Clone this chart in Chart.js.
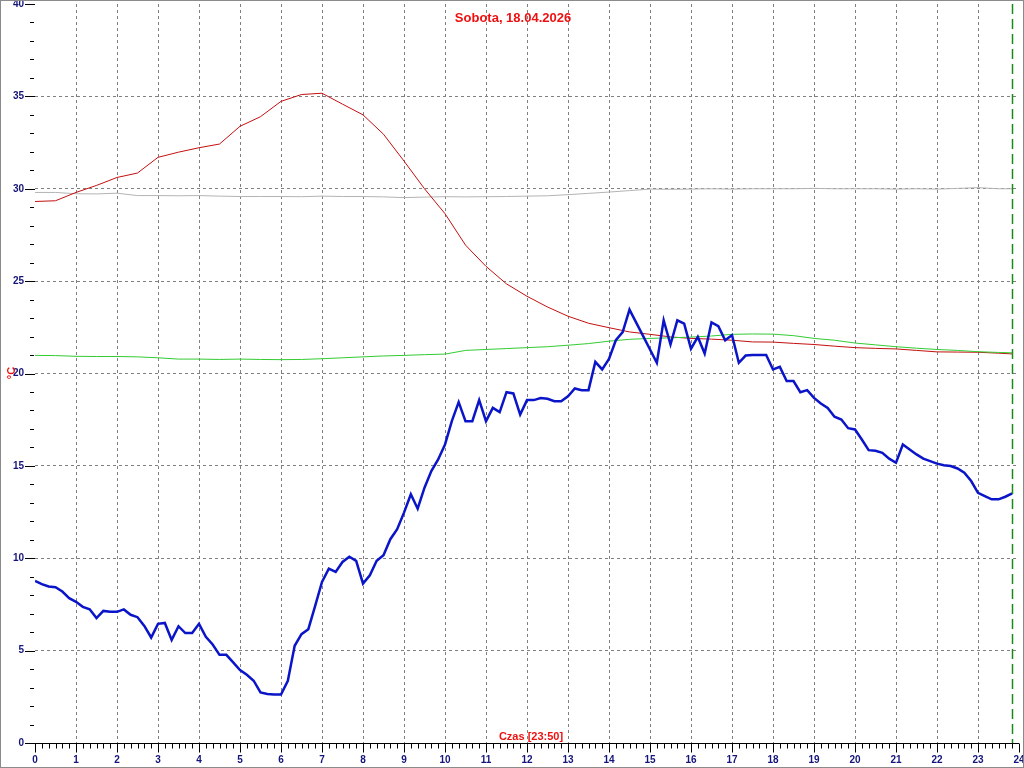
<!DOCTYPE html>
<html>
<head>
<meta charset="utf-8">
<script src="https://cdn.jsdelivr.net/npm/chart.js@4.4.1/dist/chart.umd.min.js"></script>
<style>
  html, body { margin: 0; padding: 0; background: #fff; }
  #wrap { width: 1024px; height: 768px; }
</style>
</head>
<body>
<div id="wrap"><canvas id="tempChart" width="1024" height="768"></canvas></div>
<script>
const dayTitle = 'Sobota, 18.04.2026';
const nowLabel = '23:50';
const axisTitleX = 'Czas';
const axisTitleY = '°C';

// blue: readings every 10 minutes, 00:00 .. 23:50
const blueMinutes = Array.from({ length: 144 }, (_, i) => i * 10);
const blueTemp = [8.77,8.6,8.47,8.43,8.2,7.84,7.64,7.37,7.24,6.76,
  7.15,7.1,7.1,7.23,6.94,6.81,6.34,5.71,6.45,6.5,
  5.58,6.32,5.95,5.95,6.45,5.75,5.33,4.77,4.77,4.36,
  3.95,3.69,3.37,2.74,2.65,2.62,2.62,3.37,5.26,5.89,
  6.16,7.42,8.72,9.44,9.26,9.8,10.08,9.86,8.63,9.08,
  9.86,10.16,11.03,11.57,12.47,13.46,12.68,13.82,14.72,15.35,
  16.16,17.42,18.45,17.42,17.42,18.56,17.42,18.14,17.91,18.99,
  18.92,17.78,18.56,18.56,18.67,18.63,18.5,18.5,18.77,19.19,
  19.1,19.1,20.63,20.22,20.79,21.8,22.24,23.46,22.74,22.02,
  21.3,20.58,22.88,21.57,22.88,22.7,21.34,21.98,21.08,22.77,
  22.56,21.8,22.08,20.58,20.97,21.0,21.0,21.0,20.22,20.36,
  19.59,19.59,18.99,19.1,18.68,18.38,18.13,17.66,17.51,17.04,
  16.97,16.43,15.85,15.82,15.71,15.39,15.17,16.16,15.89,15.62,
  15.39,15.26,15.12,15.03,14.99,14.86,14.63,14.18,13.54,13.36,
  13.19,13.19,13.33,13.51];

// slow series: every 30 minutes plus the last reading at 23:50
const slowMinutes = Array.from({ length: 48 }, (_, i) => i * 30).concat([1430]);
const redTemp = [29.31,29.35,29.8,30.18,30.61,30.85,31.7,31.98,32.22,32.42,
  33.38,33.9,34.73,35.1,35.17,34.58,34.0,32.95,31.5,30.0,
  28.65,26.95,25.8,24.85,24.18,23.6,23.1,22.72,22.48,22.25,
  22.12,21.98,21.9,21.86,21.8,21.71,21.7,21.63,21.57,21.48,
  21.4,21.36,21.33,21.25,21.17,21.16,21.15,21.1,21.06];
const greenTemp = [20.98,20.97,20.93,20.92,20.92,20.9,20.85,20.78,20.78,20.76,
  20.78,20.76,20.75,20.76,20.8,20.85,20.9,20.95,20.98,21.02,
  21.05,21.25,21.3,21.35,21.4,21.45,21.53,21.62,21.75,21.85,
  21.9,21.93,21.97,22.03,22.12,22.14,22.13,22.05,21.9,21.8,
  21.65,21.55,21.45,21.37,21.3,21.25,21.18,21.14,21.12];
const grayTemp = [29.8,29.8,29.73,29.72,29.76,29.63,29.63,29.62,29.63,29.6,
  29.58,29.58,29.58,29.57,29.6,29.58,29.58,29.56,29.52,29.55,
  29.57,29.56,29.57,29.58,29.6,29.62,29.68,29.75,29.82,29.9,
  29.98,29.97,29.98,30.0,29.98,30.0,30.0,30.0,30.02,30.0,
  30.0,30.0,29.98,30.0,29.98,30.02,30.06,30.0,30.0];

const pts = (mins, vals) => mins.map((m, i) => ({ x: m / 60, y: vals[i] }));
const nowHours = (() => { const [h, m] = nowLabel.split(':').map(Number); return h + m / 60; })();

const tickFont = { family: 'Liberation Sans, Arial, sans-serif', size: 10, weight: 'bold' };
const navy = '#14147a';
const red = '#ee1111';

// extra drawing: axis line, minor ticks, "now" marker, labels, frame
const decor = {
  id: 'decor',
  beforeDraw(chart) {
    const ctx = chart.ctx;
    ctx.save();
    ctx.fillStyle = '#fff';
    ctx.fillRect(0, 0, chart.width, chart.height);
    ctx.restore();
  },
  afterDraw(chart) {
    const { ctx, chartArea: a, scales: { x, y } } = chart;
    ctx.save();
    ctx.strokeStyle = '#000';
    ctx.lineWidth = 1;
    ctx.beginPath();
    const by = Math.round(a.bottom) + 0.5;
    ctx.moveTo(a.left - 2, by);
    ctx.lineTo(a.right, by);
    for (let m = 0; m <= 24 * 60; m += 10) {
      const px = Math.round(x.getPixelForValue(m / 60)) + 0.5;
      ctx.moveTo(px, by);
      ctx.lineTo(px, by + (m % 60 === 0 ? 9 : 5));
    }
    for (let v = 0; v <= 40; v++) {
      const py = Math.round(y.getPixelForValue(v)) + 0.5;
      if (v % 5 === 0) { ctx.moveTo(a.left - 10, py); ctx.lineTo(a.left, py); }
      else { ctx.moveTo(a.left - 5, py); ctx.lineTo(a.left - 1, py); }
    }
    ctx.stroke();

    // current time marker
    const nx = Math.round(x.getPixelForValue(nowHours)) + 0.5;
    ctx.strokeStyle = '#1a8a1a';
    ctx.lineWidth = 1.5;
    ctx.setLineDash([10, 5]);
    ctx.beginPath();
    ctx.moveTo(nx, a.top);
    ctx.lineTo(nx, a.bottom);
    ctx.stroke();
    ctx.setLineDash([]);

    // texts
    ctx.fillStyle = red;
    ctx.textAlign = 'center';
    ctx.textBaseline = 'middle';
    ctx.font = 'bold 13px Liberation Sans, Arial, sans-serif';
    ctx.fillText(dayTitle, 513, 18);
    ctx.font = 'bold 11px Liberation Sans, Arial, sans-serif';
    ctx.fillText(axisTitleX + ' [' + nowLabel + ']', 531, 737);
    ctx.save();
    ctx.translate(12, 373);
    ctx.rotate(-Math.PI / 2);
    ctx.fillText(axisTitleY, 0, 0);
    ctx.restore();

    // frame
    ctx.strokeStyle = '#8a8a8a';
    ctx.lineWidth = 1;
    ctx.strokeRect(0.5, 0.5, chart.width - 1, chart.height - 1);
    ctx.restore();
  }
};

new Chart(document.getElementById('tempChart').getContext('2d'), {
  type: 'line',
  data: {
    datasets: [
      { label: 'blue', data: pts(blueMinutes, blueTemp), borderColor: '#0a14c8', borderWidth: 2.5 },
      { label: 'green', data: pts(slowMinutes, greenTemp), borderColor: '#33cc33', borderWidth: 1 },
      { label: 'red', data: pts(slowMinutes, redTemp), borderColor: '#c41010', borderWidth: 1 },
      { label: 'gray', data: pts(slowMinutes, grayTemp), borderColor: '#b4b4b4', borderWidth: 1 }
    ]
  },
  options: {
    responsive: false,
    animation: false,
    devicePixelRatio: 1,
    elements: { point: { radius: 0 }, line: { tension: 0 } },
    layout: { padding: { left: 0, top: 4, right: 5, bottom: 0 } },
    plugins: { legend: { display: false }, tooltip: { enabled: false }, title: { display: false } },
    scales: {
      x: {
        type: 'linear', min: 0, max: 24,
        afterFit: s => { s.height = 25; s.paddingLeft = 0; s.paddingRight = 0; },
        ticks: { stepSize: 1, autoSkip: false, maxRotation: 0, padding: 11, color: navy, font: tickFont },
        grid: {
          drawTicks: false, lineWidth: 1,
          color: c => (c.tick && c.tick.value > 0 && c.tick.value < 24) ? '#808080' : 'rgba(0,0,0,0)'
        },
        border: { display: false, dash: [3, 3] }
      },
      y: {
        min: 0, max: 40,
        afterFit: s => { s.width = 35; s.paddingTop = 0; s.paddingBottom = 0; },
        ticks: { stepSize: 5, padding: 11, color: navy, font: tickFont },
        grid: {
          drawTicks: false, lineWidth: 1,
          color: c => (c.tick && c.tick.value > 0 && c.tick.value < 40) ? '#808080' : 'rgba(0,0,0,0)'
        },
        border: { display: false, dash: [3, 3] }
      }
    }
  },
  plugins: [decor]
});
</script>
</body>
</html>
